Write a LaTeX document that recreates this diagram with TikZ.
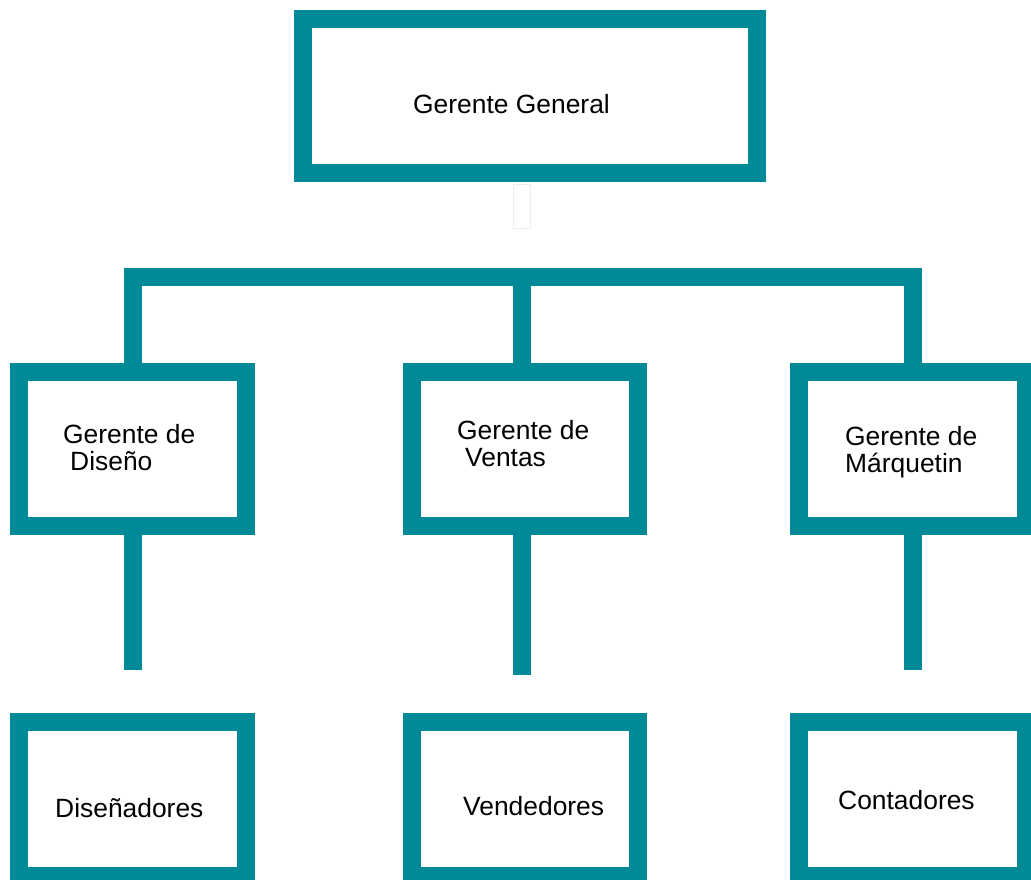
\documentclass[tikz,border=0pt]{standalone}
\usepackage{fontspec}
\setmainfont{Liberation Sans}
\definecolor{orgteal}{RGB}{0,137,151}
\begin{document}
\begin{tikzpicture}[x=1pt,y=-1pt,
  box/.style={draw=orgteal, line width=18pt, fill=white, minimum width=227pt, minimum height=154pt, inner sep=0pt, outer sep=0pt},
  conn/.style={draw=orgteal, line width=18pt, line cap=butt, line join=miter},
  faint/.style={draw=black!7, line width=1pt, fill=white, minimum width=17pt, minimum height=44pt, inner sep=0pt, outer sep=0pt},
  lbl/.style={font=\fontsize{26.4}{27}\selectfont, inner sep=0pt, align=left, text=black}]
\useasboundingbox (0,0) rectangle (1031,879);
\clip (0,0) rectangle (1031,879);
% boxes
\node[box, minimum width=454.5pt] (gg) at (529.75,96) {};
\node[box] (dg) at (132.5,449) {};
\node[box, minimum width=226pt] (vg) at (525,449) {};
\node[box] (mg) at (912.5,449) {};
\node[box] (ds) at (132.5,799) {};
\node[box, minimum width=226pt] (vd) at (525,799) {};
\node[box] (ct) at (912.5,799) {};
% faint stub under top box
\node[faint] (stub) at (522,206) {};
% connectors
\coordinate (bar) at (522,277);
\draw[conn] (dg.north) |- (bar) -| (mg.north);
\draw[conn] (bar) -- (vg.north -| bar);
\coordinate (dsEnd) at (132.5,670);
\coordinate (vdEnd) at (522,675);
\coordinate (ctEnd) at (912.5,670);
\draw[conn] (dg.south) -- (dsEnd);
\draw[conn] (vg.south -| vdEnd) -- (vdEnd);
\draw[conn] (mg.south) -- (ctEnd);
% labels (base anchor = baseline of last line)
\node[lbl, anchor=base west] (tgg) at (413,113) {Gerente General};
\node[lbl, anchor=base west] (tdg) at (63,470) {Gerente de\\\hspace*{7pt}Diseño};
\node[lbl, anchor=base west] (tvg) at (457,466) {Gerente de\\\hspace*{8pt}Ventas};
\node[lbl, anchor=base west] (tmg) at (845,472) {Gerente de\\Márquetin};
\node[lbl, anchor=base west] (tds) at (55,817) {Diseñadores};
\node[lbl, anchor=base west] (tvd) at (463,815) {Vendedores};
\node[lbl, anchor=base west] (tct) at (838,809) {Contadores};
\end{tikzpicture}
\end{document}
